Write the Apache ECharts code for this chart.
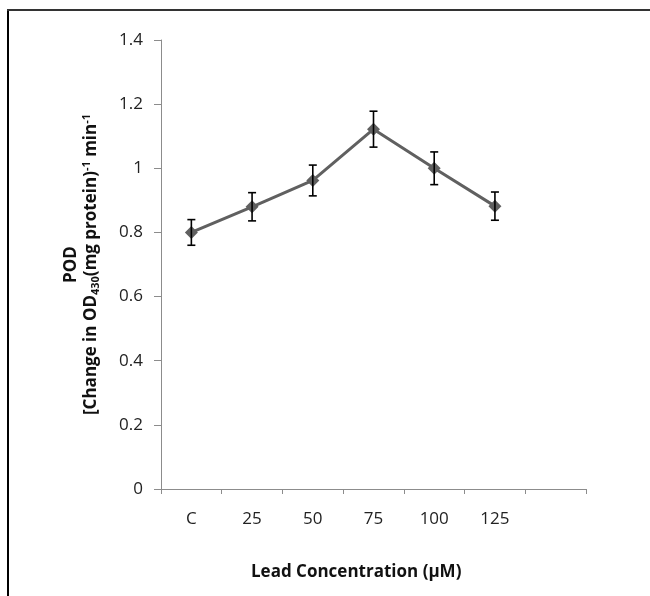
<!DOCTYPE html>
<html>
<head>
<meta charset="utf-8">
<script src="https://cdn.jsdelivr.net/npm/echarts@6/dist/echarts.min.js"></script>
<style>
html,body{margin:0;padding:0;background:#fff;}
#chart{width:650px;height:596px;}
</style>
</head>
<body>
<div id="chart"></div>
<script>
var categories = ['C', '25', '50', '75', '100', '125', ''];
var podValues = [0.80, 0.88, 0.962, 1.122, 1.0, 0.882];
var podErrors = [0.04, 0.044, 0.048, 0.056, 0.051, 0.044];
var yTicks = { min: 0, max: 1.4, interval: 0.2 };

var FONT = '"Open Sans", "Noto Sans", sans-serif';
var chart = echarts.init(document.getElementById('chart'));

var errData = podValues.map(function (v, i) { return [i, v - podErrors[i], v + podErrors[i]]; });

chart.setOption({
  backgroundColor: '#fff',
  animation: false,
  grid: { left: 161, right: 64, top: 40, bottom: 107, containLabel: false },
  xAxis: {
    type: 'category',
    data: categories,
    boundaryGap: true,
    axisLine: { lineStyle: { color: '#8c8c8c', width: 1 } },
    axisTick: { show: true, length: 5, alignWithLabel: false, lineStyle: { color: '#8c8c8c' } },
    axisLabel: { color: '#222', fontFamily: FONT, fontSize: 17, margin: 22 },
    splitLine: { show: false }
  },
  yAxis: {
    type: 'value',
    min: yTicks.min, max: yTicks.max, interval: yTicks.interval,
    axisLine: { show: true, lineStyle: { color: '#8c8c8c', width: 1 } },
    axisTick: { show: true, length: 7, lineStyle: { color: '#8c8c8c' } },
    axisLabel: { color: '#222', fontFamily: FONT, fontSize: 17, margin: 18 },
    splitLine: { show: false },
    name: '{b|POD}\n{b|[Change in OD}{sub|430}{b|(mg protein)}{sup|-1}{b| min}{sup|-1}',
    nameLocation: 'middle',
    nameGap: 60,
    nameTextStyle: {
      fontFamily: FONT,
      rich: {
        b: { fontFamily: FONT, fontSize: 17, fontWeight: 'bold', color: '#111', lineHeight: 20 },
        sub: { fontFamily: FONT, fontSize: 11, fontWeight: 'bold', color: '#111', verticalAlign: 'bottom', lineHeight: 20, padding: [7, 0, 0, 0] },
        sup: { fontFamily: FONT, fontSize: 11, fontWeight: 'bold', color: '#111', verticalAlign: 'top', lineHeight: 20, padding: [0, 0, 7, 0] }
      }
    }
  },
  graphic: [
    { type: 'line', silent: true, shape: { x1: 8, y1: 10, x2: 8, y2: 596 }, style: { stroke: '#000', lineWidth: 2 } },
    { type: 'line', silent: true, shape: { x1: 7, y1: 10, x2: 650, y2: 10 }, style: { stroke: '#333', lineWidth: 2 } },
    { type: 'text', silent: true, x: 251, y: 572,
      style: { text: 'Lead Concentration (\u03bcM)', fontFamily: FONT, fontSize: 17, fontWeight: 'bold', fill: '#111', align: 'left', verticalAlign: 'middle' } }
  ],
  series: [
    {
      type: 'line',
      data: podValues,
      symbol: 'diamond',
      symbolSize: 13,
      lineStyle: { color: '#606060', width: 3 },
      itemStyle: { color: '#606060' },
      z: 3
    },
    {
      type: 'custom',
      data: errData,
      z: 4,
      renderItem: function (params, api) {
        var x = api.value(0);
        var lo = api.coord([x, api.value(1)]);
        var hi = api.coord([x, api.value(2)]);
        var cw = 4;
        var st = { stroke: '#000', lineWidth: 1.6 };
        return {
          type: 'group',
          children: [
            { type: 'line', shape: { x1: hi[0], y1: hi[1], x2: lo[0], y2: lo[1] }, style: st },
            { type: 'line', shape: { x1: hi[0] - cw, y1: hi[1], x2: hi[0] + cw, y2: hi[1] }, style: st },
            { type: 'line', shape: { x1: lo[0] - cw, y1: lo[1], x2: lo[0] + cw, y2: lo[1] }, style: st }
          ]
        };
      }
    }
  ]
});
</script>
</body>
</html>
